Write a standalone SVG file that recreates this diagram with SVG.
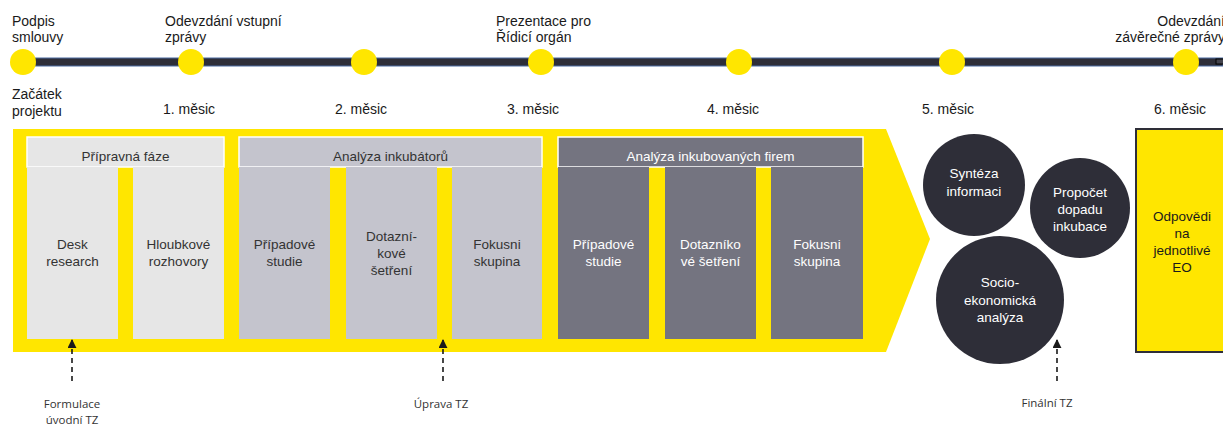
<svg xmlns="http://www.w3.org/2000/svg" width="1223" height="426" viewBox="0 0 1223 426">
<style>
.t{font-family:"Liberation Sans",Arial,sans-serif;font-size:14px;fill:#1a1a1a}
.b{font-family:"Liberation Sans",Arial,sans-serif;font-size:13.5px;text-anchor:middle;fill:#333333}
.b.w{fill:#ffffff}
.b.k{fill:#1a1a1a}
.n{font-family:"Open Sans","Liberation Sans",sans-serif;font-size:11.5px;text-anchor:middle;fill:#333333}
.dot{fill:#FFE600}
.hl{fill:#E6E6E6;stroke:#ffffff;stroke-width:1.5}
.hm{fill:#C4C4CD;stroke:#ffffff;stroke-width:1.5}
.hd{fill:#747480;stroke:#ffffff;stroke-width:1.5}
.cl{fill:#E6E6E6}
.cm{fill:#C4C4CD}
.cd{fill:#747480}
.circ{fill:#2E2E38}
.dash{stroke:#1a1a1a;stroke-width:1.6;stroke-dasharray:5 4;fill:none}
</style>
<defs>
<marker id="ah" viewBox="0 0 10 10" refX="9" refY="5" markerWidth="9" markerHeight="9" markerUnits="userSpaceOnUse" orient="auto">
<path d="M0,0 L10,5 L0,10 Z" fill="#1a1a1a"/>
</marker>
</defs>
<rect width="1223" height="426" fill="#ffffff"/>

<g id="timeline">
<rect x="22" y="58" width="1201" height="8" fill="#2E2E38" stroke="#4A6AA0" stroke-width="1"/>
<rect x="1216" y="59" width="8" height="5" fill="#44444E" stroke="#000000" stroke-width="1"/>
<circle class="dot" cx="23" cy="62" r="13"/>
<circle class="dot" cx="191" cy="62" r="13"/>
<circle class="dot" cx="364" cy="62" r="13"/>
<circle class="dot" cx="541" cy="62" r="13"/>
<circle class="dot" cx="739" cy="62" r="13"/>
<circle class="dot" cx="952" cy="62" r="13"/>
<circle class="dot" cx="1186" cy="62" r="13"/>
<text class="t" x="12" y="26">Podpis</text>
<text class="t" x="12" y="42">smlouvy</text>
<text class="t" x="165" y="26">Odevzdání vstupní</text>
<text class="t" x="165" y="42">zprávy</text>
<text class="t" x="496" y="26">Prezentace pro</text>
<text class="t" x="496" y="42">Řídicí orgán</text>
<text class="t" x="1225" y="26" text-anchor="end">Odevzdání</text>
<text class="t" x="1225" y="42" text-anchor="end">závěrečné zprávy</text>
<text class="t" x="12" y="99">Začátek</text>
<text class="t" x="12" y="116">projektu</text>
<text class="t" x="163" y="114">1. měsic</text>
<text class="t" x="335" y="114">2. měsic</text>
<text class="t" x="507" y="114">3. měsic</text>
<text class="t" x="707" y="114">4. měsic</text>
<text class="t" x="922" y="114">5. měsic</text>
<text class="t" x="1154" y="114">6. měsic</text>
</g>

<g id="arrow-band">
<polygon points="13,129 886,129 930,239 886,352 13,352" fill="#FFE600"/>
</g>

<g id="phase-pripravna">
<rect class="hl" x="27" y="137" width="197" height="30"/>
<text class="b" x="125.5" y="161">Přípravná fáze</text>
</g>
<g id="node-desk">
<rect class="cl" x="27" y="167" width="91" height="172"/>
<text class="b" x="72.5" y="249">Desk</text>
<text class="b" x="72.5" y="266">research</text>
</g>
<g id="node-hloubkove">
<rect class="cl" x="133" y="167" width="91" height="172"/>
<text class="b" x="178.5" y="249">Hloubkové</text>
<text class="b" x="178.5" y="266">rozhovory</text>
</g>

<g id="phase-inkubatory">
<rect class="hm" x="239" y="137" width="303" height="30"/>
<text class="b" x="390.5" y="161">Analýza inkubátorů</text>
</g>
<g id="node-pripadove1">
<rect class="cm" x="239" y="167" width="91" height="172"/>
<text class="b" x="284.5" y="249">Případové</text>
<text class="b" x="284.5" y="266">studie</text>
</g>
<g id="node-dotaznikove1">
<rect class="cm" x="346" y="167" width="91" height="172"/>
<text class="b" x="391.5" y="241">Dotazní-</text>
<text class="b" x="391.5" y="258">kové</text>
<text class="b" x="391.5" y="275">šetření</text>
</g>
<g id="node-fokusni1">
<rect class="cm" x="452" y="167" width="90" height="172"/>
<text class="b" x="497" y="249">Fokusni</text>
<text class="b" x="497" y="266">skupina</text>
</g>

<g id="phase-firmy">
<rect class="hd" x="558" y="137" width="305" height="30"/>
<text class="b w" x="710.5" y="161">Analýza inkubovaných firem</text>
</g>
<g id="node-pripadove2">
<rect class="cd" x="558" y="167" width="91" height="172"/>
<text class="b w" x="603.5" y="249">Případové</text>
<text class="b w" x="603.5" y="266">studie</text>
</g>
<g id="node-dotaznikove2">
<rect class="cd" x="665" y="167" width="91" height="172"/>
<text class="b w" x="710.5" y="249">Dotazníko</text>
<text class="b w" x="710.5" y="266">vé šetření</text>
</g>
<g id="node-fokusni2">
<rect class="cd" x="771" y="167" width="92" height="172"/>
<text class="b w" x="817" y="249">Fokusni</text>
<text class="b w" x="817" y="266">skupina</text>
</g>

<g id="node-synteza">
<circle class="circ" cx="974" cy="185" r="51"/>
<text class="b w" x="974" y="178">Syntéza</text>
<text class="b w" x="974" y="196">informaci</text>
</g>
<g id="node-propocet">
<circle class="circ" cx="1080" cy="208" r="50"/>
<text class="b w" x="1080" y="197">Propočet</text>
<text class="b w" x="1080" y="214">dopadu</text>
<text class="b w" x="1080" y="231">inkubace</text>
</g>
<g id="node-socio">
<circle class="circ" cx="1000" cy="300" r="64"/>
<text class="b w" x="1000" y="287">Socio-</text>
<text class="b w" x="1000" y="305">ekonomická</text>
<text class="b w" x="1000" y="322">analýza</text>
</g>

<g id="node-odpovedi">
<rect x="1136" y="129" width="95" height="223" fill="#FFE600" stroke="#2E2E38" stroke-width="2"/>
<text class="b k" x="1182" y="221">Odpovědi</text>
<text class="b k" x="1182" y="238">na</text>
<text class="b k" x="1182" y="255">jednotlivé</text>
<text class="b k" x="1182" y="272">EO</text>
</g>

<g id="connectors">
<line class="dash" x1="72" y1="381" x2="72" y2="340" marker-end="url(#ah)"/>
<line class="dash" x1="443" y1="381" x2="443" y2="340" marker-end="url(#ah)"/>
<line class="dash" x1="1057" y1="381" x2="1057" y2="340" marker-end="url(#ah)"/>
</g>

<g id="labels">
<text class="n" x="72" y="408">Formulace</text>
<text class="n" x="72" y="424">úvodní TZ</text>
<text class="n" x="441" y="408">Úprava TZ</text>
<text class="n" x="1047" y="407">Finální TZ</text>
</g>
</svg>
